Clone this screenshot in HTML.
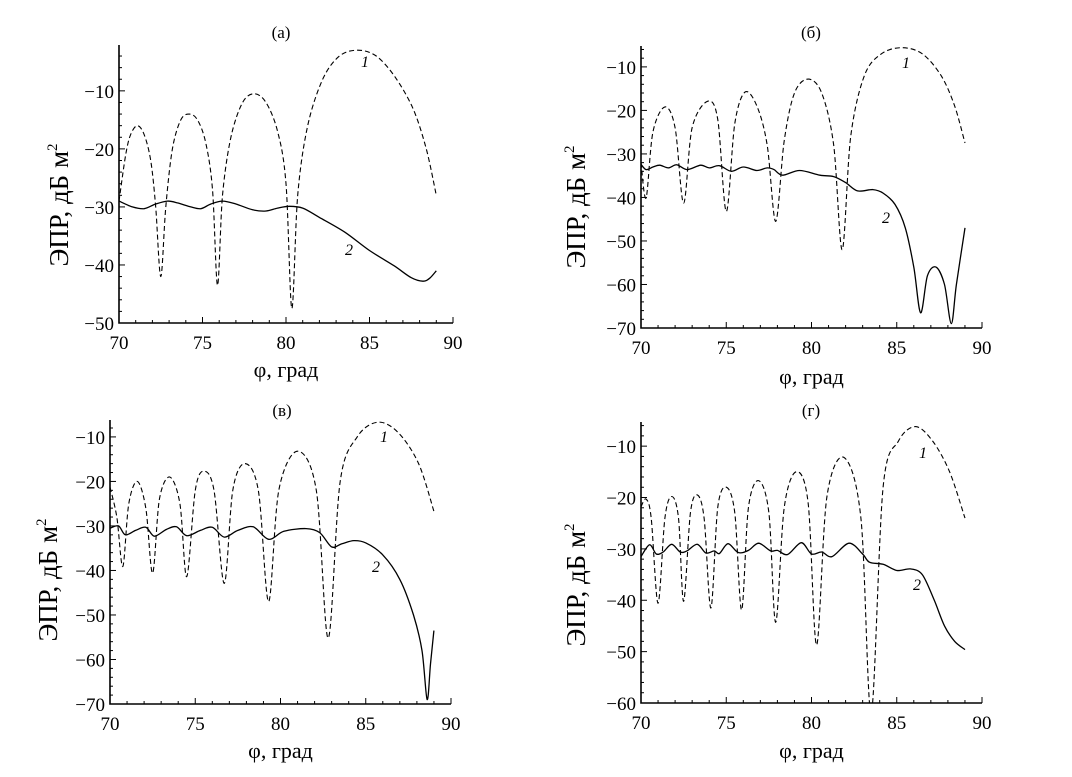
<!DOCTYPE html>
<html><head><meta charset="utf-8"><style>
html,body{margin:0;padding:0;background:#fff;}
svg{display:block;font-family:"Liberation Serif",serif;}
</style></head><body>
<svg id="fig" width="1072" height="777" viewBox="0 0 1072 777"></svg>
<script>
// ---- data (x in deg, y in dB m^2) ----
const aCurve1X=[70,70.4,70.7,71.1,71.5,71.9,72.2,72.5,72.8,73.2,73.7,74.2,74.7,75.2,75.6,75.9,76.2,76.7,77.4,78.1,78.8,79.5,80.0,80.35,80.7,81.3,82.2,83.2,84.3,85.4,86.5,87.6,88.4,89];
const aCurve1Y=[-29,-21,-17.5,-16,-17.5,-22,-30,-42,-30,-20,-15,-14,-15,-19,-27,-43.5,-28,-18,-12,-10.5,-12,-17,-26,-47.5,-28,-16,-8,-4,-3,-4,-7.5,-13,-20,-28];
const aCurve2X=[70,70.8,71.5,72.2,72.9,73.5,74.3,74.9,75.5,76.2,77,78,78.8,79.5,80.2,81,82,83.5,85,86.5,87.5,88.2,88.6,89];
const aCurve2Y=[-29,-30,-30.3,-29.5,-29,-29.3,-30,-30.3,-29.5,-29,-29.5,-30.5,-30.7,-30.2,-29.9,-30.2,-31.8,-34.3,-37.5,-40.2,-42.2,-42.8,-42.3,-41];

const bCurve1X=[70,70.3,70.7,71.4,72.0,72.5,73.0,73.9,74.5,75.0,75.5,76.1,76.8,77.4,77.9,78.4,79.0,79.8,80.6,81.3,81.8,82.3,83.1,84.1,85.3,86.5,87.6,88.4,89];
const bCurve1Y=[-32,-40.1,-25,-19.2,-24,-41.3,-24,-17.9,-22,-43.2,-23,-15.8,-19,-28,-45.5,-27,-16,-12.8,-16,-28,-52,-26,-12,-7,-5.6,-7,-12,-19,-27.5];
const bCurve2X=[70,70.3,70.7,71.1,71.6,72.1,72.7,73.5,74.0,74.6,75.3,76.0,76.8,77.4,77.8,78.3,79.3,80.5,81.3,82.0,82.7,83.6,84.2,84.9,85.5,86.0,86.4,86.8,87.3,87.8,88.2,88.5,89];
const bCurve2Y=[-32.4,-33.6,-33,-32.6,-33.2,-32.5,-33.6,-32.6,-33.2,-32.7,-34,-33,-33.8,-33.2,-33.6,-34.9,-33.8,-34.9,-35.2,-36.6,-38.5,-38.2,-39,-41.6,-47,-56,-66.5,-58,-56,-60,-69,-60,-47];

const cCurve1X=[70,70.4,70.75,71.1,71.6,72.1,72.5,72.9,73.5,74.1,74.5,75.0,75.5,76.1,76.7,77.2,77.9,78.7,79.3,79.9,81.0,82.1,82.8,83.5,84.5,85.7,86.9,88.1,89];
const cCurve1Y=[-21.3,-28,-39.1,-25,-20,-26,-40.6,-24,-19,-25,-41.4,-22,-17.7,-22,-42.9,-22,-16,-22,-47,-22,-13.2,-22,-55.2,-20,-10,-6.7,-9,-16,-26.7];
const cCurve2X=[70,70.5,70.9,71.5,72.1,72.6,73.3,73.9,74.5,75.3,76.0,76.7,77.5,78.4,79.3,80.2,81.5,82.3,83.0,83.6,84.3,85,86,87,87.8,88.3,88.6,88.8,89];
const cCurve2Y=[-30.5,-30,-32,-31,-30.3,-32.3,-30.8,-30.2,-32.2,-31,-30.3,-32.5,-31,-30.2,-33,-31.2,-30.6,-31.5,-34.7,-34,-33.3,-33.8,-36.5,-42,-50,-58,-69,-61,-53.5];

const dCurve1X=[70,70.3,70.6,71.0,71.4,71.8,72.2,72.5,72.9,73.3,73.7,74.1,74.5,75.0,75.5,75.9,76.3,76.9,77.5,77.9,78.4,79.1,79.8,80.3,80.9,81.9,82.9,83.5,84.2,85.1,86.1,87.1,88.1,89];
const dCurve1Y=[-21.8,-20.3,-24,-40.6,-24,-19.8,-24,-40.2,-23,-19.5,-24,-41.5,-22,-18,-23,-41.9,-22,-16.7,-23,-44.3,-22,-15,-21,-48.7,-20,-12.2,-24,-62,-18,-9,-6.2,-9,-15,-24];
const dCurve2X=[70,70.5,70.9,71.3,71.8,72.3,72.7,73.3,73.8,74.3,74.6,75.1,75.7,76.3,76.9,77.6,78,78.6,79.4,80,80.6,81.2,82.2,83.0,83.4,84.2,85,85.8,86.5,87.2,87.8,88.4,89];
const dCurve2Y=[-31.5,-29.2,-31,-30.6,-29.1,-30.6,-30.4,-29.1,-30.8,-30.4,-30.9,-29,-30.7,-30.3,-28.9,-30.4,-30.3,-31.1,-28.8,-31,-30.6,-31.5,-28.9,-31,-32.6,-33,-34.2,-33.9,-35,-40,-45,-48,-49.6];

const xTicks=[70,75,80,85,90];
const aYTicks=[-50,-40,-30,-20,-10];
const bYTicks=[-70,-60,-50,-40,-30,-20,-10];
const cYTicks=[-70,-60,-50,-40,-30,-20,-10];
const dYTicks=[-60,-50,-40,-30,-20,-10];

const NS='http://www.w3.org/2000/svg';
const svg=document.getElementById('fig');
function mk(tag,attrs,parent){const e=document.createElementNS(NS,tag);for(const k in attrs)e.setAttribute(k,attrs[k]);(parent||svg).appendChild(e);return e;}
function smoothPath(pts){
  let d='M'+pts[0][0].toFixed(1)+','+pts[0][1].toFixed(1);
  for(let i=0;i<pts.length-1;i++){
    const p0=pts[Math.max(0,i-1)],p1=pts[i],p2=pts[i+1],p3=pts[Math.min(pts.length-1,i+2)];
    const t=0.16;
    const c1=[p1[0]+(p2[0]-p0[0])*t,p1[1]+(p2[1]-p0[1])*t];
    const c2=[p2[0]-(p3[0]-p1[0])*t,p2[1]-(p3[1]-p1[1])*t];
    d+='C'+c1[0].toFixed(1)+','+c1[1].toFixed(1)+' '+c2[0].toFixed(1)+','+c2[1].toFixed(1)+' '+p2[0].toFixed(1)+','+p2[1].toFixed(1);
  }
  return d;
}
function panel(id,cfg){
  const g=mk('g',{});
  
  
  const L=cfg.left,R=cfg.right,T=cfg.top,B=cfg.bottom;
  const sx=x=>L+(x-70)/20*(R-L);
  const sy=y=>B-(y-cfg.ymin)/(cfg.ymax-cfg.ymin)*(B-T);
  const clip=mk('clipPath',{id:'clip-'+id},g);
  mk('rect',{x:L,y:T-2,width:R-L,height:B-T+2},clip);
  const ax=mk('path',{d:`M${L},${T}V${B}H${R}`,stroke:'#000','stroke-width':1.6,fill:'none'},g);
  
  
  for(let v=70;v<=90;v+=1){const x=sx(v);const len=(v%5===0)?6:3;mk('line',{x1:x,y1:B,x2:x,y2:B-len,stroke:'#000','stroke-width':1},g);}
  xTicks.forEach(v=>{const t=mk('text',{x:sx(v),y:B+26,'text-anchor':'middle','font-size':19},g);t.textContent=v;
    
    });
  for(let v=cfg.ymin;v<=cfg.ymax;v+=2){const y=sy(v);const len=(v%10===0)?6:3;mk('line',{x1:L,y1:y,x2:L+len,y2:y,stroke:'#000','stroke-width':1},g);}
  cfg.yticks.forEach(v=>{const t=mk('text',{x:L-5,y:sy(v)+7,'text-anchor':'end','font-size':19},g);t.textContent='\u2212'+Math.abs(v);
    
    });
  const ti=mk('text',{x:cfg.titleX,y:cfg.titleY,'text-anchor':'middle','font-size':17},g);ti.textContent=cfg.title;
  
  
  const xt=mk('text',{x:(L+R)/2,y:cfg.xlabY,'text-anchor':'middle','font-size':22},g);xt.textContent='\u03c6, град';
  
  
  const yt=mk('text',{x:0,y:0,'text-anchor':'middle','font-size':27,transform:`translate(${cfg.ylabX},${cfg.ylabY}) rotate(-90)`},g);
  yt.innerHTML='ЭПР, дБ м<tspan font-size="15" dy="-11">2</tspan>';
  
  
  const p1=cfg.x1.map((x,i)=>[sx(x),sy(cfg.y1[i])]);
  const c1=mk('path',{d:smoothPath(p1),fill:'none',stroke:'#000','stroke-width':1.1,'stroke-dasharray':'5,3','clip-path':`url(#clip-${id})`},g);
  
  
  const p2=cfg.x2.map((x,i)=>[sx(x),sy(cfg.y2[i])]);
  const c2=mk('path',{d:smoothPath(p2),fill:'none',stroke:'#000','stroke-width':1.3,'clip-path':`url(#clip-${id})`},g);
  
  
  const l1=mk('text',{x:cfg.l1[0],y:cfg.l1[1],'font-size':16,'font-style':'italic','text-anchor':'middle'},g);l1.textContent='1';
  
  
  const l2=mk('text',{x:cfg.l2[0],y:cfg.l2[1],'font-size':16,'font-style':'italic','text-anchor':'middle'},g);l2.textContent='2';
  
  
}
panel('a',{left:119,right:453,top:45,bottom:323,ymin:-50,ymax:-2.1,yticks:aYTicks,x1:aCurve1X,y1:aCurve1Y,x2:aCurve2X,y2:aCurve2Y,
  title:'(а)',titleX:281,titleY:38,xlabY:377,ylabX:68,ylabY:205,l1:[365,67],l2:[349,255]});
panel('b',{left:641,right:982,top:46,bottom:328,ymin:-70,ymax:-5.2,yticks:bYTicks,x1:bCurve1X,y1:bCurve1Y,x2:bCurve2X,y2:bCurve2Y,
  title:'(б)',titleX:811,titleY:38,xlabY:384,ylabX:585,ylabY:207,l1:[906,68],l2:[886,223]});
panel('c',{left:110,right:451,top:420,bottom:704,ymin:-70,ymax:-6.2,yticks:cYTicks,x1:cCurve1X,y1:cCurve1Y,x2:cCurve2X,y2:cCurve2Y,
  title:'(в)',titleX:282,titleY:416,xlabY:758,ylabX:57,ylabY:580,l1:[384,442],l2:[376,572]});
panel('d',{left:641,right:982,top:422,bottom:703,ymin:-60,ymax:-5.3,yticks:dYTicks,x1:dCurve1X,y1:dCurve1Y,x2:dCurve2X,y2:dCurve2Y,
  title:'(г)',titleX:811,titleY:416,xlabY:758,ylabX:585,ylabY:585,l1:[923,458],l2:[917,590]});
</script>
</body></html>
